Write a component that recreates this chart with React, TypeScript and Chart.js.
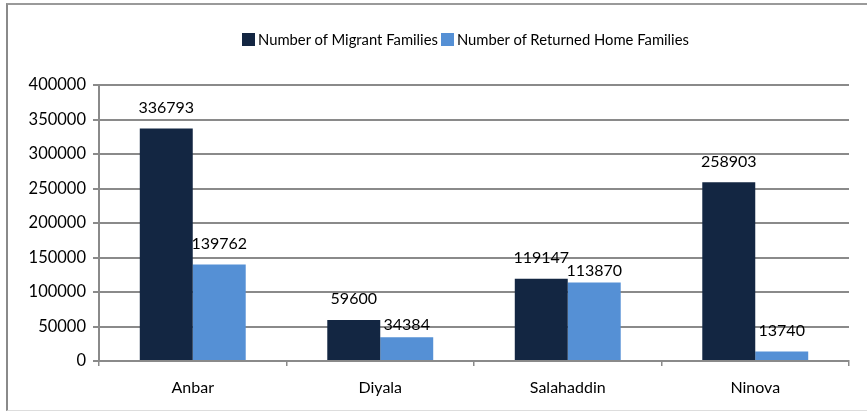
import React, { useEffect, useRef } from "react";
import { Chart, registerables } from "chart.js";

Chart.register(...registerables);

const categories = ["Anbar", "Diyala", "Salahaddin", "Ninova"];
const migrantFamilies = [336793, 59600, 119147, 258903];
const returnedFamilies = [139762, 34384, 113870, 13740];
const seriesNames = ["Number of Migrant Families", "Number of Returned Home Families"];
const seriesColors = ["#132642", "#5590D5"];

const FONT = "Lato, 'Open Sans', sans-serif";

const labelGap: Record<string, number> = { "1-1": 12, "1-2": 12 };

const valueLabels = {
  id: "valueLabels",
  afterDatasetsDraw(chart: any) {
    const ctx = chart.ctx;
    ctx.save();
    ctx.font = `16px ${FONT}`;
    ctx.fillStyle = "#000";
    ctx.textAlign = "center";
    ctx.textBaseline = "middle";
    chart.data.datasets.forEach((ds: any, di: number) => {
      const meta = chart.getDatasetMeta(di);
      meta.data.forEach((el: any, i: number) => {
        const gap = labelGap[`${di}-${i}`] ?? 21;
        ctx.fillText(String(ds.data[i]), el.x, el.y - gap);
      });
    });
    ctx.restore();
  },
};

export default function App() {
  const ref = useRef<HTMLCanvasElement>(null);
  useEffect(() => {
    const chart = new Chart(ref.current!, {
      type: "bar",
      data: {
        labels: categories,
        datasets: [
          { label: seriesNames[0], data: migrantFamilies, backgroundColor: seriesColors[0] },
          { label: seriesNames[1], data: returnedFamilies, backgroundColor: seriesColors[1] },
        ],
      },
      options: {
        animation: false,
        responsive: false,
        layout: { padding: { top: 85, right: 18, left: 0, bottom: 0 } },
        plugins: { legend: { display: false }, tooltip: { enabled: false } },
        datasets: { bar: { categoryPercentage: 0.565, barPercentage: 1 } },
        scales: {
          x: {
            grid: { display: true, drawOnChartArea: false, drawTicks: true, tickLength: 5, color: "#8a8a8a", lineWidth: 1.5, offset: true },
            border: { color: "#8a8a8a", width: 2 },
            ticks: { color: "#000", font: { family: FONT, size: 16 }, padding: 12 },
            afterFit: (s: any) => { s.height = 50; },
          },
          y: {
            min: 0,
            max: 400000,
            ticks: { stepSize: 50000, color: "#000", font: { family: FONT, size: 16.5 }, padding: 7, callback: (v: any) => String(v) },
            grid: { color: "#8a8a8a", lineWidth: 2, tickLength: 6 },
            border: { color: "#8a8a8a", width: 2 },
            afterFit: (s: any) => { s.width = 99; },
          },
        },
      },
      plugins: [valueLabels],
    });
    return () => chart.destroy();
  }, []);

  return (
    <div style={{ position: "absolute", left: 0, top: 0, width: 867, height: 411, background: "#fff", overflow: "hidden" }}>
      <div style={{ position: "absolute", left: 6, top: 3, width: 870, height: 405, borderTop: "2px solid #9a9a9a", borderLeft: "2px solid #8a8a8a", borderBottom: "1px solid #ddd" }} />
      <canvas ref={ref} width={867} height={411} style={{ position: "absolute", left: 0, top: 0 }} />
      <div style={{ position: "absolute", left: 242, top: 30, display: "flex", alignItems: "center", fontFamily: FONT, fontSize: 14.8, color: "#000", whiteSpace: "nowrap" }}>
        <span style={{ display: "inline-block", width: 13, height: 13, background: seriesColors[0], marginRight: 3 }} />
        <span>{seriesNames[0]}</span>
        <span style={{ display: "inline-block", width: 13, height: 13, background: seriesColors[1], marginLeft: 3, marginRight: 3 }} />
        <span>{seriesNames[1]}</span>
      </div>
    </div>
  );
}
